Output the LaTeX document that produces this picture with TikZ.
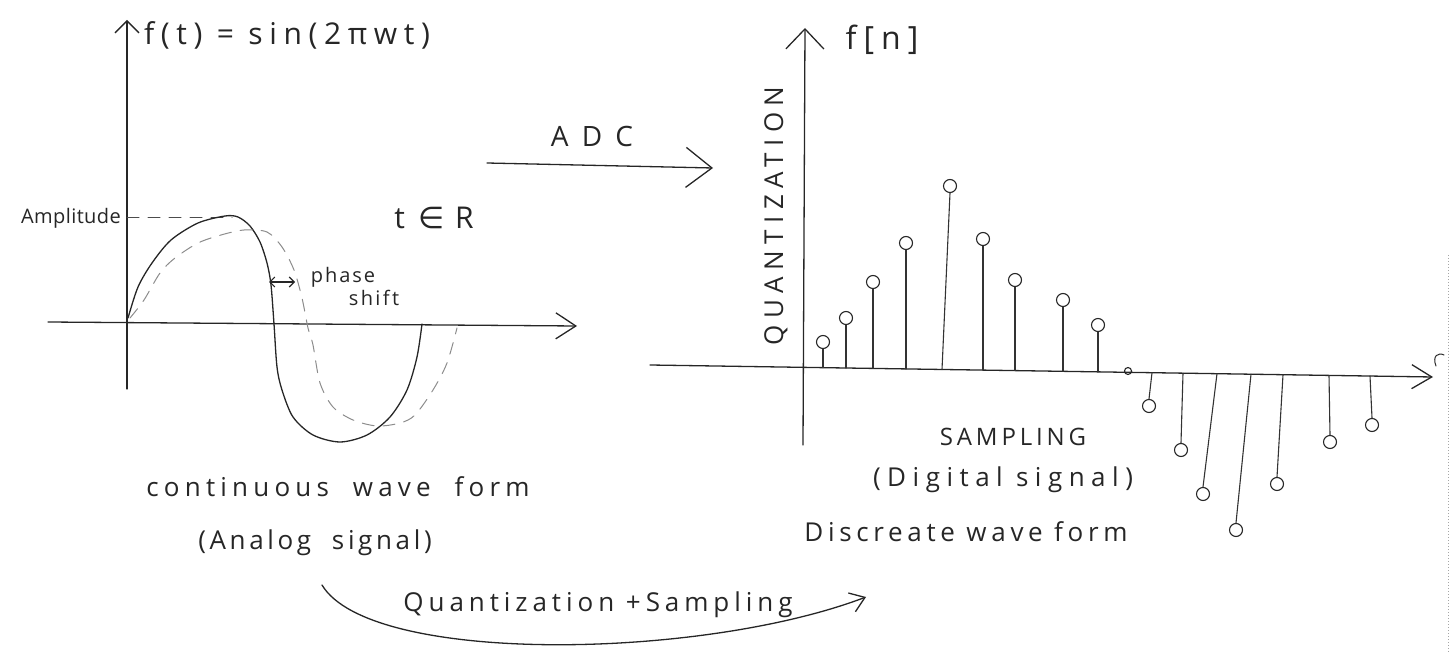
\documentclass[tikz,border=0pt]{standalone}
\usepackage{fontspec}
\setmainfont{Open Sans}
\newfontfamily\symfont{DejaVu Sans}
\usetikzlibrary{arrows.meta}
\newcommand{\fs}[1]{\fontsize{#1}{#1}\selectfont}
\newcommand{\lsp}[1]{\addfontfeature{LetterSpace=#1}}
\begin{document}
\begin{tikzpicture}[x=1pt,y=-1pt,
  ink/.style={line width=1.3pt, black!85, line cap=round, line join=round},
  faint/.style={line width=1pt, black!45, dash pattern=on 12pt off 9pt, line cap=round},
  lbl/.style={inner sep=0pt, text=black!85},
  bob/.style={draw=black!85, line width=1.1pt, circle, inner sep=0pt, minimum size=13pt},
  stemline/.style={line width=1.1pt, black!80, line cap=round}
]
\useasboundingbox (0,0) rectangle (1452,652);

% ---------------- left plot ----------------
\coordinate (lyTop) at (127,20);
\coordinate (lyBot) at (127,389);
\coordinate (lxL) at (48,322);
\coordinate (lxR) at (577,326);
\draw[ink,-{Straight Barb[length=12pt,width=24pt,line width=1.3pt]}] (lyBot) -- (lyTop);
\draw[ink,-{Straight Barb[length=20pt,width=26pt,line width=1.3pt]}] (lxL) -- (lxR);

\node[lbl, anchor=west, font=\fs{30}\lsp{22}] (ft) at (144,35) {f(t) = sin(2πwt)};

\node[lbl, anchor=east, font=\fs{20}\lsp{2}] (amp) at (121,218) {Amplitude};
\coordinate (ampA) at (127,218);
\coordinate (ampB) at (232,218);
\draw[faint, black!70] (ampA) -- (ampB);

\node[lbl, font=\fs{30}] (tR) at (434,218) {t\hspace{14pt}{\symfont ∈}\hspace{10pt}R};

% solid sine
\draw[ink] plot[smooth, tension=0.5] coordinates {(128,318) (138,287) (152,263) (171,240) (198,223) (225,216) (238,217) (250,226) (260,242) (267,263) (271,285) (274,324) (277,367) (282,390) (293,417) (313,435) (340,442) (367,435) (390,417) (407,390) (417,357) (422,324)};
% phase-shifted sine
\draw[faint] plot[smooth, tension=0.5] coordinates {(130,318) (144,300) (160,273) (175,258) (198,243) (221,235) (244,230) (267,232) (282,247) (294,270) (302,298) (308,328) (313,345) (320,383) (333,407) (353,420) (377,426) (400,423) (415,415) (433,390) (447,363) (457,328)};

\coordinate (psA) at (269,282);
\coordinate (psB) at (295,282);
\draw[ink, line width=1.1pt, {Straight Barb[length=5pt,width=10pt]}-{Straight Barb[length=5pt,width=10pt]}] (psA) -- (psB);
\node[lbl, font=\fs{20}\lsp{10}] (phase) at (343,277) {phase};
\node[lbl, font=\fs{20}\lsp{12}] (shift) at (374,298) {shift};

\node[lbl, font=\fs{26}\lsp{20}] (cwf) at (338,487) {continuous \ wave \ form};
\node[lbl, font=\fs{26}\lsp{14}] (analog) at (315,543) {(Analog \ signal)};

% ---------------- ADC arrow ----------------
\node[lbl, font=\fs{28}\lsp{47}] (adc) at (592,137) {ADC};
\coordinate (adcL) at (487,163);
\coordinate (adcR) at (713,168);
\draw[ink,-{Straight Barb[length=26pt,width=40pt,line width=1.3pt]}] (adcL) -- (adcR);

% ---------------- right plot ----------------
\coordinate (ryTop) at (805,28);
\coordinate (ryBot) at (803,445);
\coordinate (rxL) at (650,365);
\coordinate (rxR) at (1433,377);
\draw[ink,-{Straight Barb[length=20pt,width=38pt,line width=1.3pt]}] (ryBot) -- (ryTop);
\draw[ink,-{Straight Barb[length=20pt,width=24pt,line width=1.3pt]}] (rxL) -- (rxR);

\node[lbl, font=\fs{32}\lsp{22}] (fn) at (882,40) {f[n]};
\node[lbl, rotate=90, font=\fs{26}\lsp{25}] (quant) at (776,216) {QUANTIZATION};

% positive samples: base x / circle x / circle y
\foreach \i/\x/\xt/\yt in {1/823/823/342, 2/846/846/318, 3/873/873/282, 4/906/906/243, 5/942/950/186, 6/983/983/239, 7/1015/1015/280, 8/1063/1063/300, 9/1098/1098/325}{
  \pgfmathsetmacro{\yb}{365+(\x-650)*12/783}
  \coordinate (pb\i) at (\x,\yb);
  \node[bob] (pc\i) at (\xt,\yt) {};
  \draw[stemline] (pb\i) -- (pc\i.south);
}
\node[bob, minimum size=7pt] (z0) at (1128,371) {};
% negative samples
\foreach \i/\x/\xt/\yt in {1/1152/1149/406, 2/1183/1181/450, 3/1217/1203/494, 4/1251/1236/530, 5/1283/1277/484, 6/1329/1330/442, 7/1370/1372/425}{
  \pgfmathsetmacro{\yb}{365+(\x-650)*12/783}
  \coordinate (nb\i) at (\x,\yb);
  \node[bob] (nc\i) at (\xt,\yt) {};
  \draw[stemline] (nb\i) -- (nc\i.north);
}

\draw[ink, line width=1pt] (1436,366) .. controls (1432,356) and (1438,352) .. (1444,355);
\draw[black!35, line width=1pt, dotted] (1448,255) -- (1448,652);

\node[lbl, font=\fs{24}\lsp{16}] (samp) at (1013,437) {SAMPLING};
\node[lbl, font=\fs{26}\lsp{25}] (digital) at (1003,480) {(Digital signal)};
\node[lbl, font=\fs{26}\lsp{18}] (disc) at (966,532) {Discreate wave form};

% ---------------- bottom arrow ----------------
\coordinate (qsA) at (322,585);
\coordinate (qsB) at (866,597);
\draw[ink,-{Straight Barb[length=14pt,width=20pt,line width=1.3pt]}] (qsA) .. controls (370,665) and (700,660) .. (qsB);
\node[lbl, font=\fs{26}\lsp{19}] (qs) at (598,605) {Quantization +Sampling};
\end{tikzpicture}
\end{document}
